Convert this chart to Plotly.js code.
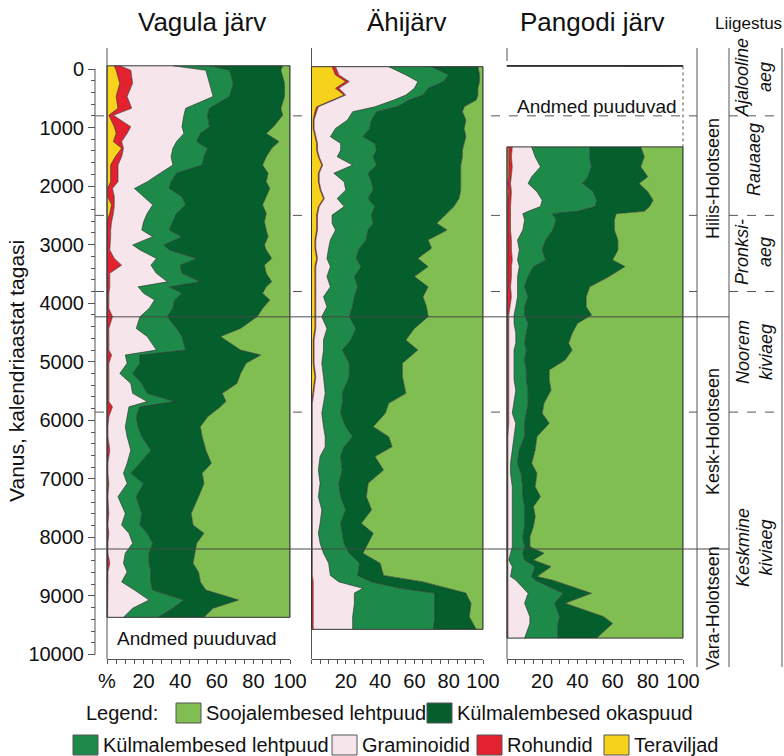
<!DOCTYPE html>
<html><head><meta charset="utf-8">
<script src="https://cdn.plot.ly/plotly-3.0.1.min.js"></script>
<style>html,body{margin:0;padding:0;background:#fff}#chart{width:784px;height:756px}</style>
</head><body><div id="chart"></div>
<script>
// ---------- series ----------
const seriesNames = ['Teraviljad','Rohundid','Graminoidid','Külmalembesed lehtpuud','Külmalembesed okaspuud','Soojalembesed lehtpuud'];
const seriesColors = ['#f7d21c','#e4212f','#f6e6ec','#1e8a4a','#045f2d','#80be52'];
const legendOrder = [5,4,3,2,1,0];

const panelTitles = ['Vagula järv','Ähijärv','Pangodi järv'];
const missingLabel = 'Andmed puuduvad';

// ---------- Vagula järv ----------
const vagulaAge = [-55,20,245,470,670,790,985,1100,1240,1355,1500,1640,1780,1925,2040,2180,2320,2465,2610,2750,2865,3005,3090,3235,3350,3490,3635,3720,3830,3945,4090,4230,4430,4570,4800,4885,5025,5200,5370,5540,5680,5770,5940,6110,6280,6510,6735,6905,7080,7305,7590,7790,7930,8100,8270,8440,8590,8760,8900,9070,9210,9365];
const vagulaTeraviljad = [4,5,7,5,6,1,4,5,3.5,8,4.5,2,2,2,0.3,0.4,2.5,1.5,0,0,0,0,0,0,0,0,0,0,0,0,0,0,0,0,0,0.5,0,0,0,0,0,0.5,0,0,0,0,0,0,0.5,0,0,0,0,0,0,0,0,0,0,0,0,0];
const vagulaRohundid = [3,8,7,6,7.5,2.5,9,6,4.5,1,3.5,4,4,4,2.7,3.6,1.5,2,2.5,2,2,1.5,1.5,4,8,1.5,1.5,1.5,1,1,1,3,1,1,1,2,1,1,1,1,1,2.5,1,0.5,0.5,1.5,0.5,0.5,0.5,0.5,1,0.5,1,0.5,0.5,1.5,0.5,0.5,0.5,0.5,0.3,0.3];
const vagulaGraminoidid = [29,41,42,47,29.5,38.5,28,31,30,27,27,30,23,16,12,16,21,18.5,17.5,17,23,12.5,16.5,23,16,25.5,31.5,15.5,19,25,22,15,15,21,26,7.5,10,6,12,13,21,9,10,9.5,10.5,11.5,10.5,8.5,10,5.5,9,7.5,11,13.5,9.5,7.5,10.5,7.5,14.5,22.5,13.7,8.7];
const vagulaKulmLehtpuud = [20,13,13,9,13,13,15,9,11,19,18,16,9,13,19,21,18,16,16,15,16,17,16,22,16,14,18,17,21,11,13,15,22,19,16,8,7,7,6,8,15,6,5,7,8,11,7,4,9,10,9,10,10,11,13,14,13,16,10,19,22,19];
const vagulaKulmOkaspuud = [40,28,28,30,39,41,35,36,45,35,34,33,50,52,55,46,42,49,50,53,47,55,53,41,46,46,39,53,44,52,49,49,35,21,30,66,58,59,52,41,28,44,39,34,33,30,39,39,33,34,27,29,31,24,25,24,26,27,29,30,22,25];
const vagulaSoojaLehtpuud = [4,5,3,3,5,4,9,13,6,10,13,15,12,13,11,13,15,13,14,13,12,14,13,10,14,13,10,13,15,11,15,18,27,38,27,16,24,27,29,37,35,38,45,49,48,46,43,48,47,50,54,53,47,51,52,53,50,49,46,28,42,47];

// ---------- Ähijärv ----------
const ahiAge = [-40,100,215,330,445,530,645,730,870,1015,1155,1270,1385,1500,1640,1780,1925,2065,2210,2350,2495,2635,2750,2920,3060,3235,3375,3545,3720,3890,4060,4230,4430,4630,4800,5025,5255,5540,5710,5880,6110,6280,6450,6620,6850,7075,7305,7530,7760,7930,8100,8270,8440,8650,8760,8870,8950,9130,9355,9570];
const ahiTeraviljad = [12,14,20,14,19,12,3,2,1,1,2,3,3,4,6,4,4,5,7,4,3,3,3,2,2,3,2,2,2,2,2,2,2,1,1,1,2,1,0,0,0,0,0,0,0,0,0,0,0,0,0,0,0,0,0,0,0,0,0,0];
const ahiRohundid = [2,2,2,2,1,1,1,1,0.5,0.5,0.5,0.5,0.5,0.5,0.5,0.5,0.5,0.5,0.5,0.5,0.5,0.5,0.5,0.5,0.5,0.5,0.5,0.5,0.5,0.5,0.5,0.5,0.5,0.5,0.5,0.5,0.5,0.5,0.5,0.5,0.5,0.5,0.5,0.5,0.5,0.5,0.5,0.5,0.5,0.5,0.5,0.5,0.5,0.5,1,1,1,1,1,1];
const ahiGraminoidid = [31,39,40,44,35,35,33,21,19.5,12.5,8.5,13.5,13.5,10.5,17.5,8.5,14.5,14.5,7.5,14.5,8.5,8.5,10.5,8.5,7.5,5.5,8.5,6.5,8.5,4.5,6.5,3.5,6.5,5.5,5.5,4.5,4.5,6.5,6.5,5.5,6.5,7.5,7.5,4.5,3.5,4.5,3.5,5.5,4.5,3.5,4.5,6.5,9.5,10.5,15,29,24,24,23,23];
const ahiKulmLehtpuud = [25,25,15,8,10,9,13,14,14,20,19,20,21,21,14,20,16,16,18,18,23,24,19,21,18,17,18,16,16,18,15,16,17,16,11,16,15,10,11,11,13,16,11,12,14,11,13,14,12,14,14,15,18,16,19,22,47,47,48,47];
const ahiKulmOkaspuud = [27,18,21,29,32,39,39,50,55,55,60,52,50,52,49,54,52,51,53,46,43,37,46,36,42,36,39,35,41,40,43,46,34,32,44,31,31,37,27,26,16,21,28,20,24,17,15,15,12,18,14,8,12,15,30,28,18,21,20,25];
const ahiSoojaLehtpuud = [3,2,2,3,3,4,11,12,10,11,10,11,12,12,13,13,13,13,14,17,22,27,21,32,30,38,32,40,32,35,33,32,40,45,38,47,47,45,55,57,64,55,53,63,58,67,68,65,71,64,67,70,60,58,35,20,10,7,8,4];

// ---------- Pangodi järv ----------
const pangodiTopAge = [-60,-45];
const pangodiTopTeraviljad = [0,0];
const pangodiTopRohundid = [0,0];
const pangodiTopGraminoidid = [66,66];
const pangodiTopKulmLehtpuud = [0,0];
const pangodiTopKulmOkaspuud = [27,27];
const pangodiTopSoojaLehtpuud = [7,7];

const pangodiAge = [1330,1500,1670,1840,1955,2095,2240,2350,2430,2470,2580,2750,2920,3090,3260,3375,3545,3720,3890,4060,4200,4345,4515,4685,4800,4970,5140,5310,5485,5710,5880,6050,6280,6505,6735,6905,7135,7305,7475,7645,7815,7990,8160,8270,8385,8500,8670,8730,8955,9125,9355,9470,9720];
const pangodiTeraviljad = [1,1,1,1,0.5,1,0.5,0.5,0.5,0.5,0.5,0.5,0.5,0.5,0.5,0.5,0.5,0.5,0,0,0,0,0,0,0,0,0,0,0,0,0,0,0,0,0,0,0,0,0,0,0,0,0,0,0,0,0,0,0,0,0,0,0];
const pangodiRohundid = [2,1.5,2,1.5,1.5,1.5,1.5,1.5,1.5,1.5,1.5,1.5,2,2,2.5,2,2,1.5,2.5,1.5,1,1,1,1,1,1,1,1,1,1,1,1,0.5,0.5,0.5,0.5,0.5,0.5,0.5,0.5,0.5,0.5,0.5,0.5,0.5,0.5,0.5,0.5,0.5,0.5,0.5,0.5,0.5];
const pangodiGraminoidid = [11,13.5,16,11.5,10,14.5,18,17,10,7,8,7,3.5,4.5,3,4.5,3.5,4,3.5,3.5,3,3,4,4,3,3,3,3,4,3,2,4,3.5,2.5,1.5,1.5,2.5,2.5,2.5,2.5,2.5,2.5,2.5,1.5,0.5,2.5,1.5,4.5,11.5,9.5,12.5,12.5,9.5];
const pangodiKulmLehtpuud = [33,31,29,32,31,32,31,31,28,17,18,17,16,13,16,8,6,4,6,5,6,8,6,5,7,6,7,7,7,8,8,5,6,4,4,6,6,6,7,7,7,6,7,7,9,13,12,11,20,17,17,16,19];
const pangodiKulmOkaspuud = [29,31,28,34,32,31,32,31,38,36,33,35,41,43,38,52,46,37,33,35,38,28,26,25,26,23,13,13,13,9,9,14,7,9,8,9,7,10,5,6,5,4,3,12,5,9,3,10,16,6,25,31,22];
const pangodiSoojaLehtpuud = [24,22,24,20,25,20,17,19,22,38,39,39,37,37,40,33,42,53,55,55,52,60,63,65,63,67,76,76,75,79,80,76,83,84,86,83,84,81,85,84,85,87,87,79,85,75,83,74,52,67,45,40,49];

// ---------- stratigraphy ----------
const periodBounds = [800,2500,3800,5860];
const holoceneBounds = [4230,8200];
const holoceneLabels = ['Hilis-Holotseen','Kesk-Holotseen','Vara-Holotseen'];
const periodLabels = ['Ajalooline<br>aeg','Rauaaeg','Pronksi-<br>aeg','Noorem<br>kiviaeg','Keskmine<br>kiviaeg'];
const yTickVals = [0,1000,2000,3000,4000,5000,6000,7000,8000,9000,10000];
const xTickVals = [0,20,40,60,80,100];
const xTickTextFirst = ['%','20','40','60','80','100'];
const xTickTextOther = ['','20','40','60','80','100'];

// ---------- layout helpers ----------
const W = 784, H = 756;
const FONT = 'Liberation Sans, Arial, sans-serif';
const px = x => x / W;
const py = y => 1 - y / H;
const Y_TOP = 61, Y_BOT = 659, AGE_TOP = -137, AGE_BOT = 10077;
const agePx = a => Y_TOP + (a - AGE_TOP) / (AGE_BOT - AGE_TOP) * (Y_BOT - Y_TOP);
const panelDom = [[107,290],[311.5,483],[507,683]];

const traces = [];
function addStack(xa, ages, cols, group) {
  cols.forEach((vals, i) => {
    traces.push({
      type: 'scatter', mode: 'lines', x: vals, y: ages, xaxis: xa, yaxis: 'y',
      stackgroup: group, orientation: 'h', fillcolor: seriesColors[i],
      line: {color: '#262626', width: 0.6, shape: 'linear'},
      hoverinfo: 'skip', showlegend: false, name: seriesNames[i]
    });
  });
}
addStack('x', vagulaAge, [vagulaTeraviljad, vagulaRohundid, vagulaGraminoidid, vagulaKulmLehtpuud, vagulaKulmOkaspuud, vagulaSoojaLehtpuud], 'vagula');
addStack('x2', ahiAge, [ahiTeraviljad, ahiRohundid, ahiGraminoidid, ahiKulmLehtpuud, ahiKulmOkaspuud, ahiSoojaLehtpuud], 'ahi');
addStack('x3', pangodiTopAge, [pangodiTopTeraviljad, pangodiTopRohundid, pangodiTopGraminoidid, pangodiTopKulmLehtpuud, pangodiTopKulmOkaspuud, pangodiTopSoojaLehtpuud], 'pangodiTop');
addStack('x3', pangodiAge, [pangodiTeraviljad, pangodiRohundid, pangodiGraminoidid, pangodiKulmLehtpuud, pangodiKulmOkaspuud, pangodiSoojaLehtpuud], 'pangodi');

function mkBottom(dom, first) {
  return {
    domain: [px(dom[0]), px(dom[1])], range: [0, 100], anchor: 'y', fixedrange: true,
    showline: true, linecolor: '#555', linewidth: 1, showgrid: false, zeroline: false,
    ticks: 'outside', ticklen: 4, tickcolor: '#555', tickwidth: 1,
    tickmode: 'array', tickvals: xTickVals, ticktext: first ? xTickTextFirst : xTickTextOther,
    tickfont: {size: 20, family: FONT, color: '#111'},
    minor: {dtick: 5, tick0: 0, ticks: 'outside', ticklen: 4, tickcolor: '#555', tickwidth: 1}
  };
}
function mkTop(over, dom) {
  return {
    domain: [px(dom[0]), px(dom[1])], range: [0, 100], overlaying: over, side: 'top', anchor: 'y',
    showline: true, linecolor: '#555', linewidth: 1, showgrid: false, zeroline: false,
    ticks: 'inside', ticklen: 4, tickcolor: '#555', dtick: 5, tick0: 0, showticklabels: false, fixedrange: true
  };
}

const shapes = [];
const lineShape = (x0, y0, x1, y1, color, width, dash, layer) => ({
  type: 'line', xref: 'paper', yref: 'paper', x0: px(x0), y0: py(y0), x1: px(x1), y1: py(y1),
  line: {color: color, width: width, dash: dash || 'solid'}, layer: layer || 'above'
});
periodBounds.forEach(a => {
  shapes.push(lineShape(95, agePx(a), 697, agePx(a), '#555', 1, 'dash', 'below'));
  shapes.push(lineShape(729, agePx(a), 782, agePx(a), '#555', 1, 'dash', 'below'));
});
// y axis line 0..10000
shapes.push(lineShape(95, agePx(yTickVals[0]), 95, agePx(yTickVals[yTickVals.length - 1]), '#555', 1));
// right column verticals
[697, 729, 782].forEach(x => shapes.push(lineShape(x, 48, x, 667, '#555', 1)));
// panel left lines
shapes.push(lineShape(panelDom[0][0], 48, panelDom[0][0], Y_BOT, '#555', 1));
shapes.push(lineShape(panelDom[1][0], 48, panelDom[1][0], Y_BOT, '#555', 1));
shapes.push(lineShape(panelDom[2][0], 48, panelDom[2][0], Y_TOP, '#555', 1));
shapes.push(lineShape(panelDom[2][0], agePx(pangodiAge[0]), panelDom[2][0], Y_BOT, '#555', 1));
// data frames
[[vagulaAge, 0], [ahiAge, 1], [pangodiAge, 2], [pangodiTopAge, 2]].forEach(([ages, p]) => {
  shapes.push({type: 'rect', xref: 'paper', yref: 'paper',
    x0: px(panelDom[p][0]), x1: px(panelDom[p][1]),
    y0: py(agePx(ages[0])), y1: py(agePx(ages[ages.length - 1])),
    line: {color: '#333', width: 1}, fillcolor: 'rgba(0,0,0,0)', layer: 'above'});
});
// Pangodi missing-data dotted border
shapes.push(lineShape(panelDom[2][1], agePx(pangodiTopAge[1]), panelDom[2][1], agePx(pangodiAge[0]), '#555', 1, 'dot'));
// Holocene boundaries
holoceneBounds.forEach(a => shapes.push(lineShape(95, agePx(a), 729, agePx(a), 'rgba(70,70,70,0.65)', 1.5)));

// legend
const legendBoxes = [[176, 713], [427, 713], [73, 745], [332, 745], [477, 745], [604, 745]];
const annotations = [];
const ann = (text, x, y, o) => annotations.push(Object.assign({
  text: text, xref: 'paper', yref: 'paper', x: px(x), y: py(y), showarrow: false,
  xanchor: 'center', yanchor: 'middle', font: {family: FONT, size: 20, color: '#111'}
}, o || {}));
legendOrder.forEach((si, k) => {
  const [bx, by] = legendBoxes[k];
  shapes.push({type: 'rect', xref: 'paper', yref: 'paper', x0: px(bx), x1: px(bx + 25),
    y0: py(by - 10), y1: py(by + 10), fillcolor: seriesColors[si], line: {color: '#555', width: 1}, layer: 'above'});
  ann(seriesNames[si], bx + 28, by, {xanchor: 'left'});
});
ann('Legend:', 160, 713, {xanchor: 'right'});

// titles
ann(panelTitles[0], 202, 22, {font: {family: FONT, size: 26, color: '#111'}});
ann(panelTitles[1], 406, 22, {font: {family: FONT, size: 26, color: '#111'}});
ann(panelTitles[2], 592, 22, {font: {family: FONT, size: 26, color: '#111'}});
ann('Liigestus', 784, 23, {xanchor: 'right', font: {family: FONT, size: 17, color: '#111'}});
ann('Vanus, kalendriaastat tagasi', 17, 371, {textangle: -90, font: {family: FONT, size: 21, color: '#111'}});
ann(missingLabel, 197, 638, {font: {family: FONT, size: 19, color: '#111'}});
ann(missingLabel, 597, 107, {font: {family: FONT, size: 19, color: '#111'}});

// stratigraphy labels
const holoceneY = [179, 432, 608];
holoceneLabels.forEach((t, i) => ann(t, 713, holoceneY[i], {textangle: -90, font: {family: FONT, size: 18, color: '#111'}}));
const periodY = [78, 160, 252, 352, 548];
periodLabels.forEach((t, i) => ann('<i>' + t + '</i>', 754, periodY[i], {textangle: -90, font: {family: FONT, size: 18, color: '#111'}}));

const layout = {
  width: W, height: H, margin: {l: 0, r: 0, t: 0, b: 0},
  paper_bgcolor: '#fff', plot_bgcolor: 'rgba(0,0,0,0)', showlegend: false,
  font: {family: FONT, color: '#111'},
  xaxis: mkBottom(panelDom[0], true),
  xaxis2: mkBottom(panelDom[1], false),
  xaxis3: mkBottom(panelDom[2], false),
  xaxis4: mkTop('x', panelDom[0]),
  xaxis5: mkTop('x2', panelDom[1]),
  xaxis6: mkTop('x3', panelDom[2]),
  yaxis: {
    domain: [py(Y_BOT), py(Y_TOP)], range: [AGE_BOT, AGE_TOP], anchor: 'free', position: px(95), side: 'left',
    showline: false, showgrid: false, zeroline: false, fixedrange: true,
    ticks: 'outside', ticklen: 7, tickcolor: '#555', tickwidth: 1,
    tickmode: 'array', tickvals: yTickVals, tickformat: 'd',
    tickfont: {size: 20, family: FONT, color: '#111'},
    minor: {dtick: 200, tick0: 0, ticks: 'outside', ticklen: 4, tickcolor: '#555', tickwidth: 1}
  },
  shapes: shapes, annotations: annotations
};
Plotly.newPlot('chart', traces, layout, {staticPlot: true, displayModeBar: false});
</script></body></html>
